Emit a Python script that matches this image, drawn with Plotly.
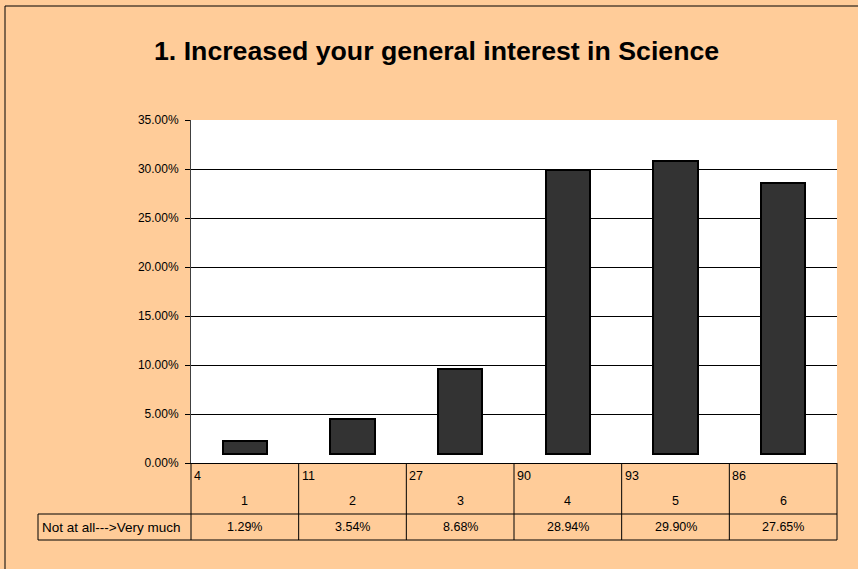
import plotly.graph_objects as go

# data
categories = ["1", "2", "3", "4", "5", "6"]
counts = [4, 11, 27, 90, 93, 86]
percent = [1.29, 3.54, 8.68, 28.94, 29.90, 27.65]
row_label = "Not at all--->Very much"
title_text = "1. Increased your general interest in Science"

W, H = 858, 569
PL, PR, PT, PB = 191, 837, 120, 463   # plot area in pixels
BG = "#FFCC99"
FONT = "Liberation Sans, Arial, sans-serif"


def px_x(x):
    return (x - PL) / (PR - PL)


def px_y(y):
    return (PB - y) / (PB - PT)


fig = go.Figure()
fig.add_trace(go.Bar(
    x=categories, y=percent, base=0.92, width=0.41,
    marker=dict(color="#333333", line=dict(color="black", width=2)),
    hoverinfo="x+y",
))

n = len(categories)
shapes = []
line = dict(color="black", width=1)
# column borders of the data table
for k in range(n + 1):
    shapes.append(dict(type="line", xref="paper", yref="paper",
                       x0=k / n, x1=k / n, y0=0, y1=px_y(540), line=line))
for yy in (514, 540):
    shapes.append(dict(type="line", xref="paper", yref="paper",
                       x0=px_x(38), x1=1, y0=px_y(yy), y1=px_y(yy), line=line))
shapes.append(dict(type="line", xref="paper", yref="paper",
                   x0=px_x(38), x1=px_x(38), y0=px_y(514), y1=px_y(540), line=line))
# outer chart border (left and top visible)
shapes.append(dict(type="line", xref="paper", yref="paper",
                   x0=px_x(5), x1=px_x(5), y0=px_y(6), y1=px_y(600), line=line))
shapes.append(dict(type="line", xref="paper", yref="paper",
                   x0=px_x(5), x1=px_x(900), y0=px_y(6), y1=px_y(6), line=line))

ann = []
f = dict(family=FONT, size=12.5, color="black")
for k in range(n):
    ann.append(dict(xref="paper", yref="paper", x=k / n, y=px_y(476),
                    text=str(counts[k]), showarrow=False, xanchor="left",
                    yanchor="middle", xshift=1, font=f))
    ann.append(dict(xref="paper", yref="paper", x=(k + 0.5) / n, y=px_y(501),
                    text=categories[k], showarrow=False, xanchor="center",
                    yanchor="middle", font=f))
    ann.append(dict(xref="paper", yref="paper", x=(k + 0.5) / n, y=px_y(527),
                    text=f"{percent[k]:.2f}%", showarrow=False,
                    xanchor="center", yanchor="middle", font=f))
ann.append(dict(xref="paper", yref="paper", x=px_x(40), y=px_y(527),
                text=row_label, showarrow=False, xanchor="left",
                yanchor="middle", font=dict(family=FONT, size=13.5, color="black")))
ann.append(dict(xref="paper", yref="paper", x=px_x(436), y=px_y(51),
                text="<b>" + title_text + "</b>", showarrow=False,
                xanchor="center", yanchor="middle",
                font=dict(family=FONT, size=26.7, color="black")))

fig.update_layout(
    width=W, height=H,
    margin=dict(l=PL, r=W - PR, t=PT, b=H - PB, pad=0),
    paper_bgcolor=BG, plot_bgcolor="white",
    showlegend=False, bargap=0,
    shapes=shapes, annotations=ann,
    font=dict(family=FONT, size=12, color="black"),
)
fig.update_xaxes(showticklabels=False, showgrid=False, ticks="",
                 showline=True, linecolor="black", linewidth=1,
                 range=[-0.5, n - 0.5], fixedrange=True)
fig.update_yaxes(range=[0, 35], dtick=5, tickformat=".2f", ticksuffix="%",
                 showgrid=True, gridcolor="black", gridwidth=1,
                 showline=True, linecolor="#404040", linewidth=1,
                 ticks="outside", ticklen=5, tickcolor="black",
                 ticklabelstandoff=4, zeroline=False,
                 tickfont=dict(family=FONT, size=12, color="black"))

fig.write_html("out.html", config={"displayModeBar": False},
               post_script="document.body.style.margin='0';"
               "document.body.style.overflow='hidden';")
